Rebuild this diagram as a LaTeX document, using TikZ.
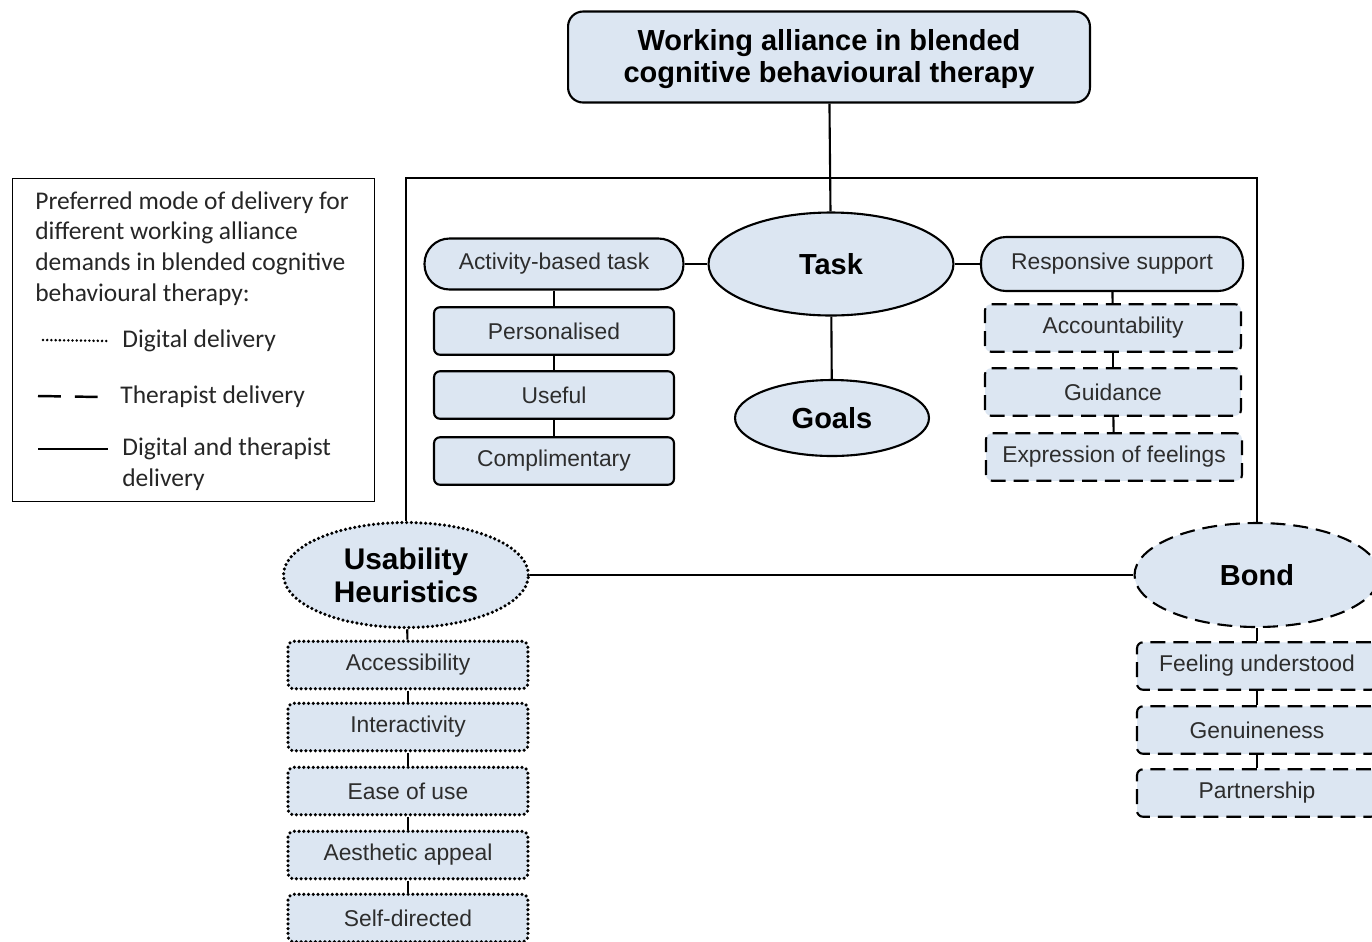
\documentclass[tikz,border=0pt]{standalone}
\usepackage{fontspec}
\setmainfont{Liberation Sans}
\newfontfamily\legendfont{Carlito}
\usetikzlibrary{shapes.geometric}
\definecolor{boxfill}{RGB}{220,230,242}
\definecolor{itemtext}{RGB}{45,45,45}
\tikzset{
  base/.style={draw=black, line width=1.2pt, fill=boxfill, align=center, inner sep=0pt},
  itembox/.style={base, rounded corners=0.12cm, minimum width=4.8cm, minimum height=0.95cm,
    text=itemtext, font=\fontsize{13}{15}\selectfont},
  subhead/.style={base, rounded corners=0.5cm, minimum height=1.02cm,
    text=itemtext, font=\fontsize{13}{15}\selectfont},
  mainoval/.style={base, ellipse, font=\bfseries\fontsize{16.5}{19}\selectfont},
  digital/.style={line width=2pt, line cap=round, dash pattern=on 0pt off 2.7pt},
  therapist/.style={dash pattern=on 8.5pt off 4.5pt},
  link/.style={line width=1.2pt},
  legendtext/.style={inner sep=0pt, align=left, font=\legendfont\fontsize{14.5}{17.6}\selectfont, text=black!85}
}
\begin{document}
\begin{tikzpicture}[x=0.02cm, y=-0.02cm]
	\useasboundingbox (0,0) rectangle (1372,941);
	\clip (0,0) rectangle (1372,941); % Bond column runs off the page
		\coordinate (Frame) at (0,178);

		% Top of the tree
		\node[base, rounded corners=0.3cm, minimum width=10.44cm, minimum height=1.82cm,
		      font=\bfseries\fontsize{16.5}{18.7}\selectfont] (Title) at (829,57) {};
		\node[font=\bfseries\fontsize{16.5}{18.7}\selectfont, align=center, inner sep=0pt] (TitleText) at (829,59)
		      {Working alliance in blended\\cognitive behavioural therapy};

		% Task and Goals
		\node[mainoval, minimum width=4.9cm, minimum height=2.06cm] (Task) at (831,264) {Task};
		\node[mainoval, minimum width=3.88cm, minimum height=1.52cm] (Goals) at (832,418) {Goals};

		\node[subhead, minimum width=5.18cm] (Activity) at (554,264) {Activity-based task};
		\node[itembox] (Personal) at (554,331) {Personalised};
		\node[itembox] (Useful) at (554,395) {Useful};
		\node[itembox] (Compl) at (554,461) {Complimentary};

		\node[subhead, minimum width=5.24cm, minimum height=1.08cm] (Support) at (1112,264) {Responsive support};
		\node[itembox, therapist, minimum width=5.12cm] (Account) at (1113,328) {Accountability};
		\node[itembox, therapist, minimum width=5.12cm] (Guide) at (1113,392) {Guidance};
		\node[itembox, therapist, minimum width=5.12cm] (Express) at (1114,457) {Expression of feelings};

		% Usability heuristics
		\node[mainoval, digital, minimum width=4.9cm, minimum height=2.1cm,
		      font=\bfseries\fontsize{17}{18.7}\selectfont] (Usab) at (406,575) {Usability\\Heuristics};
		\foreach \Name/\Y/\Text in {Access/665/Accessibility, Inter/727/Interactivity, Ease/791/Ease of use,
		                           Aesth/855/Aesthetic appeal, Self/918/Self-directed}
		  {\node[itembox, digital] (\Name) at (408,\Y) {\Text};}

		% Bond
		\node[mainoval, therapist, minimum width=4.9cm, minimum height=2.08cm] (Bond) at (1257,575) {Bond};
		\foreach \Name/\Y/\Text in {Feel/666/Feeling understood, Genuine/730/Genuineness, Partner/793/Partnership}
		  {\node[itembox, therapist] (\Name) at (1257,\Y) {\Text};}

		% Connectors
		\draw[link] (Title) -- (Task);
		\draw[link] (Task) -- (Goals);
		\draw[link] (Activity) -- (Task);
		\draw[link] (Task) -- (Support);
		\draw[link] (Usab.north) -- (Usab.north |- Frame) -| (Bond.north);
		\draw[link] (Usab) -- (Bond);
		\foreach \A/\B in {Activity/Personal, Personal/Useful, Useful/Compl,
		                   Support/Account, Account/Guide, Guide/Express,
		                   Usab/Access, Access/Inter, Inter/Ease, Ease/Aesth, Aesth/Self,
		                   Bond/Feel, Feel/Genuine, Genuine/Partner}
		  {\draw[link] (\A) -- (\B);}

		% Legend
		\node[draw, line width=0.8pt, minimum width=7.24cm, minimum height=6.46cm, anchor=north west] (Legend) at (12,178) {};
		\node[legendtext, anchor=north west] (LegHead) at (35,191)
		      {Preferred mode of delivery for\\different working alliance\\demands in blended cognitive\\behavioural therapy:};
		\node[legendtext, anchor=west] (LegDigital) at (122,341) {Digital delivery};
		\node[legendtext, anchor=west] (LegTherapist) at (120,397) {Therapist delivery};
		\node[legendtext, anchor=west] (LegBoth) at (122,464) {Digital and therapist\\delivery};
		\draw[digital, line width=1.6pt, dash pattern=on 0pt off 2.4pt] (43,340) -- (LegDigital.west -| 110,0);
		\draw[line width=1.4pt, dash pattern=on 13pt off 8pt] (38,396) -- (LegTherapist.west -| 101,0);
		\draw[line width=1.4pt] (38,449) -- (108,449);
\end{tikzpicture}
\end{document}
